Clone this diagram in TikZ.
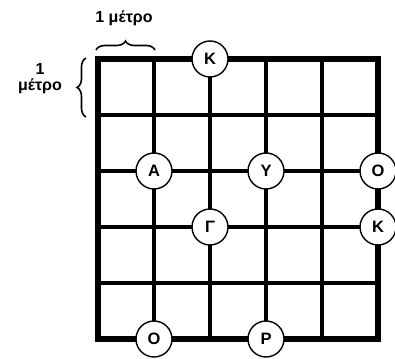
\documentclass[tikz,border=0pt]{standalone}
\usepackage{fontspec}
\setmainfont{Liberation Sans}
\usetikzlibrary{decorations.pathreplacing}
\begin{document}
\begin{tikzpicture}[x=1pt,y=-1pt,
  gridline/.style={line width=4.5pt},
  outer/.style={line width=5.2pt},
  letter/.style={circle,draw,line width=1.4pt,fill=white,minimum size=36pt,inner sep=0pt,font=\bfseries\fontsize{16.5}{16.5}\selectfont},
  lbl/.style={font=\bfseries\fontsize{16}{17}\selectfont,align=center},
  brc/.style={decorate,decoration={brace,amplitude=9pt},line width=1.6pt}]
\useasboundingbox (0,0) rectangle (395,358);
% grid
\foreach \i in {1,...,4} {
  \draw[gridline] (98+56*\i,59) -- (98+56*\i,339);
  \draw[gridline] (98,59+56*\i) -- (378,59+56*\i);
}
\draw[outer] (98,59) rectangle (378,339);
% braces
\coordinate (tb1) at (96,50);
\coordinate (tb2) at (155,50);
\draw[brc] (tb1) -- (tb2);
\coordinate (lb1) at (86,117);
\coordinate (lb2) at (86,58);
\draw[brc] (lb1) -- (lb2);
\node[lbl] (t1) at (124,18) {1 μέτρο};
\node[lbl,text height=11pt] (t2) at (40,87) {1\\[-1pt]μέτρο};
% letters
\node[letter] (k1) at (210,59) {K};
\node[letter] (a) at (154,171) {A};
\node[letter] (y) at (266,171) {Y};
\node[letter] (o1) at (378,171) {O};
\node[letter] (g) at (210,227) {Γ};
\node[letter] (k2) at (378,227) {K};
\node[letter] (o2) at (154,339) {O};
\node[letter] (p) at (266,339) {P};
\end{tikzpicture}
\end{document}
